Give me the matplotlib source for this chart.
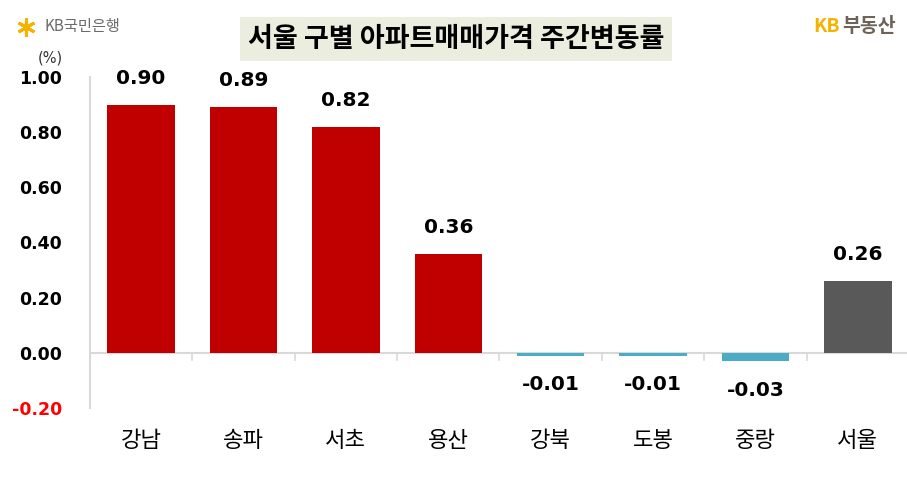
import matplotlib.pyplot as plt
from matplotlib.lines import Line2D

plt.rcParams['font.family'] = ['DejaVu Sans', 'Noto Sans CJK KR']

districts = ['강남', '송파', '서초', '용산', '강북', '도봉', '중랑', '서울']
changes = [0.90, 0.89, 0.82, 0.36, -0.01, -0.01, -0.03, 0.26]
bar_colors = ['#C00000'] * 4 + ['#4BACC6'] * 3 + ['#595959']
yticks = [-0.20, 0.00, 0.20, 0.40, 0.60, 0.80, 1.00]

fig = plt.figure(figsize=(9.07, 4.83), dpi=100)
ax = fig.add_axes([0.0992, 0.1553, 0.903, 0.6853])

x = range(len(districts))
ax.bar(x, changes, width=0.66, color=bar_colors, zorder=3)

ax.set_xlim(-0.5, len(districts) - 0.5)
ax.set_ylim(-0.2, 1.0)

# zero line with small ticks between categories
ax.axhline(0, color='#D9D9D9', lw=1.5, zorder=2)
for b in range(1, len(districts)):
    ax.plot([b - 0.5, b - 0.5], [0, -0.025], color='#D9D9D9', lw=1.2, zorder=2)

for s in ['top', 'right', 'bottom']:
    ax.spines[s].set_visible(False)
ax.spines['left'].set_color('#D9D9D9')
ax.spines['left'].set_linewidth(1.5)

ax.set_yticks(yticks)
ax.set_yticklabels(['%.2f' % v for v in yticks], fontsize=12.5, fontweight='bold')
ax.tick_params(axis='y', length=0, pad=20)
ax.get_yticklabels()[0].set_color('#FF0000')

ax.set_xticks(list(x))
ax.set_xticklabels(districts, fontsize=16, fontweight='medium',
                   family=['Noto Sans CJK KR'])
ax.tick_params(axis='x', length=0, pad=15)

for i, v in enumerate(changes):
    if v >= 0:
        ax.annotate('%.2f' % v, (i, v), xytext=(0, 19), textcoords='offset points',
                    ha='center', va='center', fontsize=14.5, fontweight='bold')
    else:
        ax.annotate('%.2f' % v, (i, v), xytext=(0, -21), textcoords='offset points',
                    ha='center', va='center', fontsize=14.5, fontweight='bold')

fig.text(50 / 907, 1 - 58 / 483, '(%)', fontsize=10.5, color='#333333',
         ha='center', va='center')

# title box
fig.text(456 / 907, 1 - 39 / 483, '서울 구별 아파트매매가격 주간변동률',
         family=['Noto Sans CJK KR'], fontsize=19.5, fontweight='bold',
         ha='center', va='center',
         bbox=dict(boxstyle='square,pad=0.3', fc='#EBEEDF', ec='none'))

# KB국민은행 logo
fig.add_artist(Line2D([26 / 907], [1 - 27 / 483], marker=(6, 2, 0), markersize=13,
                      mew=2.2, color='#F5B300', transform=fig.transFigure))
fig.text(45 / 907, 1 - 27 / 483, 'KB국민은행', family=['Noto Sans CJK KR'],
         fontsize=11, color='#6B6B6B', ha='left', va='center')

# KB부동산
fig.text(813 / 907, 1 - 27 / 483, 'KB', fontsize=14, fontweight='bold',
         color='#F5B300', ha='left', va='center', family=['Noto Sans CJK KR'])
fig.text(842 / 907, 1 - 27 / 483, '부동산', fontsize=14, fontweight='bold',
         color='#6E6259', ha='left', va='center', family=['Noto Sans CJK KR'])

fig.savefig('out.png', dpi=100)
